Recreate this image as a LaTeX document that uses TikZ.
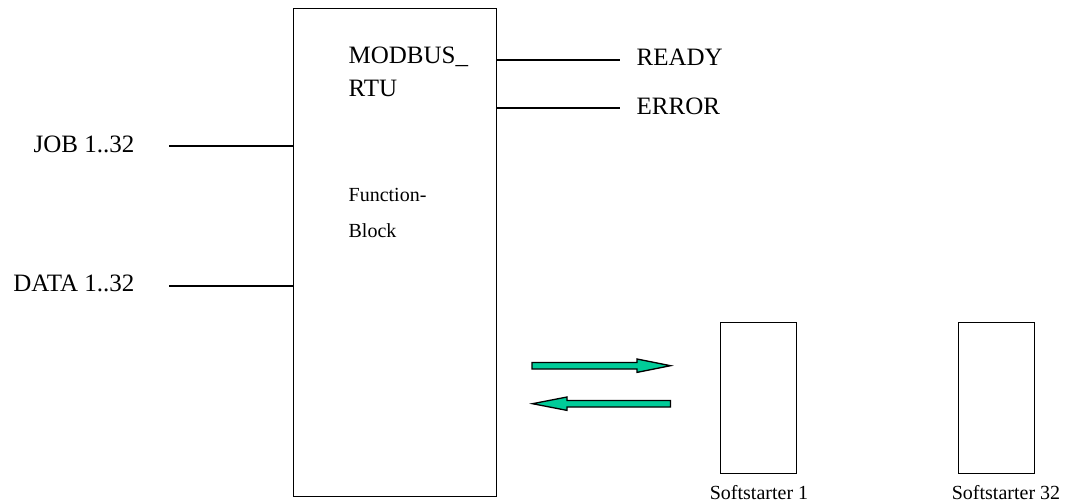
\documentclass[tikz,border=0pt]{standalone}
\usepackage{fontspec}
\setmainfont{Liberation Serif}
\definecolor{arrowgreen}{RGB}{0,204,153}
\tikzset{
  biglabel/.style={inner sep=0pt, font=\fontsize{25}{29}\selectfont},
  fblabel/.style={inner sep=0pt, anchor=base west, font=\fontsize{20}{24}\selectfont},
  starterlabel/.style={inner sep=0pt, anchor=base, font=\fontsize{20}{24}\selectfont},
  starterbox/.style={draw, line width=1.3pt, inner sep=0pt, minimum width=76pt, minimum height=151pt, anchor=north west},
  flowarrow/.style={fill=arrowgreen, draw=black, line width=1.3pt, line join=miter}
}
\begin{document}
\begin{tikzpicture}[x=1pt, y=-1pt, line width=1.3pt]
\useasboundingbox (0,0) rectangle (1067,502);
% function block
\node (fb) [draw, inner sep=0pt, minimum width=203pt, minimum height=488pt, anchor=north west] at (293,8) {};
\node (modbus) [biglabel, anchor=base west] at (348,64) {MODBUS\_};
\node (rtu) [biglabel, anchor=base west] at (348,97) {RTU};
\node (func) [fblabel] at (348,202) {Function-};
\node (block) [fblabel] at (348,238) {Block};
% inputs
\coordinate (job) at (169,146);
\coordinate (data) at (169,286);
\draw (job) -- (job -| fb.west);
\draw (data) -- (data -| fb.west);
\node (jobtext) [biglabel, anchor=base east] at (135,153) {JOB 1..32};
\node (datatext) [biglabel, anchor=base east] at (135,291) {DATA 1..32};
% outputs
\coordinate (ready) at (620,60);
\coordinate (error) at (620,108);
\draw (ready -| fb.east) -- (ready);
\draw (error -| fb.east) -- (error);
\node (readytext) [biglabel, anchor=base west] at (636,66) {READY};
\node (errortext) [biglabel, anchor=base west] at (636,115) {ERROR};
% bus arrows
\draw [flowarrow] (532,362.5) -- (637,362.5) -- (637,359) -- (670.5,365.7) -- (637,372.4) -- (637,369) -- (532,369) -- cycle;
\draw [flowarrow] (670.5,400.5) -- (567,400.5) -- (567,397) -- (532.5,403.7) -- (567,410.4) -- (567,407) -- (670.5,407) -- cycle;
% softstarters
\node (starter1) [starterbox] at (720,322) {};
\node (starter32) [starterbox] at (958,322) {};
\node (starter1text) [starterlabel] at (759,499) {Softstarter 1};
\node (starter32text) [starterlabel] at (1006,499) {Softstarter 32};
\end{tikzpicture}
\end{document}
